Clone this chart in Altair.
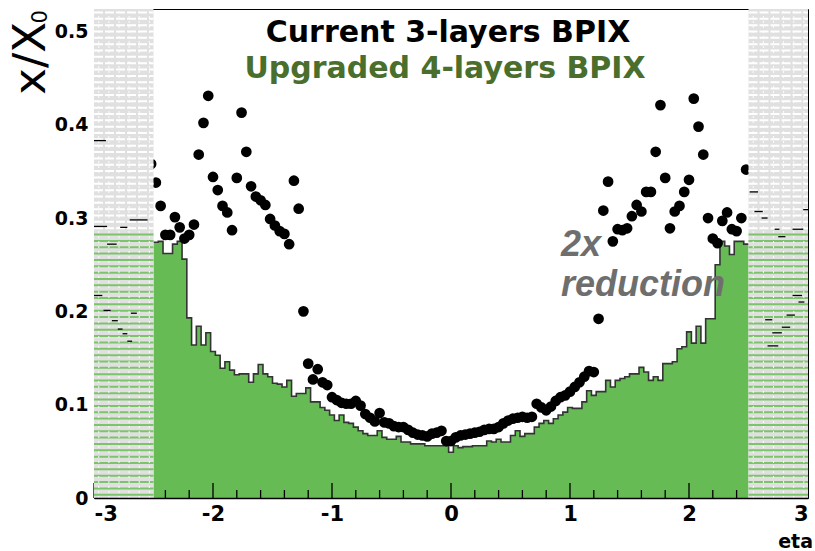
import altair as alt
import numpy as np
import pandas as pd

# Material budget x/X0 vs eta, 0.04-wide bins over the barrel acceptance
ETA_MIN = -2.5
BIN_WIDTH = 0.04

# Upgraded 4-layer BPIX (filled histogram), one value per bin
upgraded_x0 = [
    0.274, 0.275, 0.262, 0.262, 0.272, 0.275, 0.256, 0.193, 0.164, 0.184,
    0.164, 0.177, 0.157, 0.153, 0.139, 0.146, 0.137, 0.132, 0.133, 0.133,
    0.124, 0.133, 0.143, 0.133, 0.130, 0.123, 0.122, 0.119, 0.126, 0.109,
    0.112, 0.112, 0.118, 0.103, 0.103, 0.097, 0.094, 0.089, 0.083, 0.089,
    0.081, 0.080, 0.076, 0.072, 0.069, 0.067, 0.067, 0.072, 0.065, 0.063,
    0.063, 0.066, 0.060, 0.060, 0.058, 0.058, 0.058, 0.056, 0.056, 0.056,
    0.056, 0.056, 0.049,
    0.056, 0.054, 0.055, 0.055, 0.056, 0.056, 0.056, 0.061, 0.060, 0.063,
    0.060, 0.060, 0.067, 0.072, 0.066, 0.069, 0.069, 0.076, 0.080, 0.083,
    0.080, 0.085, 0.089, 0.092, 0.097, 0.096, 0.096, 0.103, 0.115, 0.110,
    0.114, 0.114, 0.126, 0.119, 0.126, 0.128, 0.130, 0.133, 0.133, 0.140,
    0.135, 0.126, 0.130, 0.126, 0.144, 0.144, 0.146, 0.160, 0.162, 0.178,
    0.166, 0.184, 0.166, 0.192, 0.192, 0.250, 0.275, 0.270, 0.261, 0.275,
    0.275, 0.272,
]

# Current 3-layer BPIX (markers at bin centres)
current_x0 = [
    0.338, 0.313, 0.282, 0.282, 0.301, 0.290, 0.278, 0.282, 0.293, 0.368,
    0.402, 0.431, 0.344, 0.330, 0.313, 0.306, 0.287, 0.343, 0.413, 0.371,
    0.334, 0.323, 0.319, 0.314, 0.299, 0.292, 0.286, 0.283, 0.272, 0.340,
    0.310, 0.200, 0.144, 0.127, 0.138, 0.124, 0.121, 0.108, 0.105, 0.102,
    0.101, 0.101, 0.104, 0.099, 0.090, 0.086, 0.082, 0.091, 0.081, 0.080,
    0.077, 0.076, 0.076, 0.073, 0.070, 0.068, 0.067, 0.066, 0.069, 0.070,
    0.072, 0.061, 0.061, 0.065, 0.067, 0.068, 0.069, 0.070, 0.071, 0.073,
    0.074, 0.074, 0.076, 0.080, 0.083, 0.085, 0.086, 0.087, 0.086, 0.087,
    0.101, 0.097, 0.094, 0.098, 0.104, 0.108, 0.110, 0.114, 0.119, 0.124,
    0.130, 0.136, 0.135, 0.192, 0.308, 0.339, 0.275, 0.288, 0.287, 0.289,
    0.302, 0.314, 0.307, 0.328, 0.328, 0.371, 0.421, 0.343, 0.289, 0.307,
    0.313, 0.328, 0.341, 0.428, 0.398, 0.368, 0.300, 0.278, 0.273, 0.297,
    0.306, 0.288, 0.286, 0.300, 0.352,
]

# 3-layer marker just outside the barrel acceptance
edge_eta = [-2.52]
edge_x0 = [0.358]

# Forward-region (|eta| > 2.5) outline fragments: start, end, value
fwd_lo = [-3.00, -2.89, -2.78, -2.70, -3.00, -3.00, -2.92, -2.85, -2.80, -2.76, -2.72, -2.69,
          2.51, 2.55, 2.61, 2.72, 2.75, 2.87, 2.96, 2.64, 2.66, 2.70, 2.78, 2.82, 2.87, 2.92]
fwd_hi = [-2.89, -2.81, -2.72, -2.55, -2.90, -2.93, -2.86, -2.80, -2.76, -2.72, -2.68, -2.64,
          2.58, 2.62, 2.66, 2.76, 2.81, 2.96, 3.00, 2.70, 2.75, 2.78, 2.85, 2.89, 2.95, 2.97]
fwd_val = [0.291, 0.272, 0.290, 0.298, 0.383, 0.217, 0.201, 0.190, 0.181, 0.176, 0.168, 0.198,
           0.328, 0.307, 0.300, 0.288, 0.280, 0.288, 0.309, 0.191, 0.163, 0.177, 0.183, 0.196, 0.217, 0.210]

x_tick_values = [-3, -2, -1, 0, 1, 2, 3]
y_tick_values = [0, 0.1, 0.2, 0.3, 0.4, 0.5]

W, H = 714, 489
Y_TOP = 0.524
GREEN = "#66bb55"
FONT = "DejaVu Sans"

n_bins = len(upgraded_x0)
edges = ETA_MIN + BIN_WIDTH * np.arange(n_bins + 1)
centres = ETA_MIN + BIN_WIDTH * (np.arange(n_bins) + 0.5)

hist_df = pd.DataFrame({"eta": edges, "v": upgraded_x0 + [upgraded_x0[-1]]})
dots_df = pd.DataFrame({"eta": centres, "v": current_x0})
edge_df = pd.DataFrame({"eta": edge_eta, "v": edge_x0})
fwd_df = pd.DataFrame({"eta": fwd_lo, "eta2": fwd_hi, "v": fwd_val})

xs = alt.Scale(domain=[-3, 3], nice=False, zero=False)
ys = alt.Scale(domain=[0, Y_TOP], nice=False, zero=False)

x_axis = alt.Axis(values=x_tick_values, labelExpr="'' + datum.value", title=None,
                  grid=False, ticks=False, tickSize=0, domain=True, domainColor="black",
                  domainWidth=1.5, labelFont=FONT, labelFontWeight="bold", labelFontSize=21,
                  labelColor="black", labelPadding=5, zindex=1)
y_axis = alt.Axis(values=y_tick_values,
                  labelExpr="datum.value == 0 ? '0' : format(datum.value, '.1f')",
                  title=None, grid=False, ticks=False, tickSize=0, domain=False,
                  labelFont=FONT, labelFontWeight="bold", labelFontSize=19,
                  labelColor="black", labelPadding=6)


def X(field="eta"):
    return alt.X(f"{field}:Q", scale=xs, axis=x_axis)


def Y(field="v"):
    return alt.Y(f"{field}:Q", scale=ys, axis=y_axis)


area = alt.Chart(hist_df).mark_area(interpolate="step-after", color=GREEN).encode(x=X(), y=Y())
outline = alt.Chart(hist_df).mark_line(interpolate="step-after", color="#333333",
                                       strokeWidth=1.6).encode(x=X(), y=Y())
dots = alt.Chart(dots_df).mark_circle(size=115, color="black", opacity=1).encode(x=X(), y=Y())
edge_dots = alt.Chart(edge_df).mark_circle(size=115, color="black", opacity=1).encode(x=X(), y=Y())

# inward ticks along the eta axis
major_df = pd.DataFrame({"eta": x_tick_values})
minor_df = pd.DataFrame({"eta": [t for t in np.round(np.arange(-3, 3.001, 0.2), 2)
                                 if abs(t - round(t)) > 1e-6]})
major_ticks = alt.Chart(major_df).mark_rule(color="black", strokeWidth=1.3).encode(
    x=X(), y=alt.value(H), y2=alt.value(H - 15))
minor_ticks = alt.Chart(minor_df).mark_rule(color="black", strokeWidth=1.3).encode(
    x=X(), y=alt.value(H), y2=alt.value(H - 8))

# hatched forward regions beyond |eta| = 2.5
band_df = pd.DataFrame({"eta": [-3.0, 2.5], "eta2": [-2.5, 3.0], "v": [0, 0], "v2": [Y_TOP, Y_TOP]})
bands = alt.Chart(band_df).mark_rect(color="#e0e0e0").encode(
    x=X(), x2="eta2:Q", y=Y(), y2="v2:Q")

levels = np.arange(0.0035, Y_TOP, 0.0068)
hatch_rows = []
for lo, hi in [(-3.0, -2.5), (2.5, 3.0)]:
    for lv in levels:
        hatch_rows.append({"eta": lo, "eta2": hi, "v": lv, "green": lv < 0.288})
hatch_df = pd.DataFrame(hatch_rows)
hatch_green = alt.Chart(hatch_df[hatch_df.green]).mark_rule(color="#7cc46a", strokeWidth=2).encode(
    x=X(), x2="eta2:Q", y=Y())
hatch_white = alt.Chart(hatch_df[~hatch_df.green]).mark_rule(
    color="white", strokeWidth=2, strokeDash=[9, 2]).encode(x=X(), x2="eta2:Q", y=Y())
vcols = np.concatenate([np.arange(-2.96, -2.5, 0.085), np.arange(2.54, 3.0, 0.085)])
vcol_df = pd.DataFrame({"eta": vcols, "v": 0.0, "v2": Y_TOP})
hatch_vert = alt.Chart(vcol_df).mark_rule(color="white", strokeWidth=1, strokeDash=[2, 3],
                                          opacity=0.9).encode(x=X(), y=Y(), y2="v2:Q")

fwd = alt.Chart(fwd_df).mark_rule(color="black", strokeWidth=1.3).encode(
    x=X(), x2="eta2:Q", y=Y())


def label(text, x, y, size, color="black", weight="bold", style="normal",
          align="left", font=FONT, angle=0, baseline="alphabetic"):
    return alt.Chart(pd.DataFrame({"t": [text]})).mark_text(
        font=font, fontSize=size, fontWeight=weight, fontStyle=style, color=color,
        align=align, baseline=baseline, angle=angle).encode(
        x=alt.value(x), y=alt.value(y), text="t:N")


title_1 = label("Current 3-layers BPIX", 354, 33, 30, align="center")
title_2 = label("Upgraded 4-layers BPIX", 351, 69, 30, color="#4a6e2c", align="center")
note_1 = label("2x", 467, 247, 36, color="#6e6e6e", style="italic", font="Liberation Sans")
note_2 = label("reduction", 467, 287, 36, color="#6e6e6e", style="italic", font="Liberation Sans")
y_title = label("x/X", -63, 13, 45, weight="normal", align="right", angle=270, baseline="middle")
y_sub = label("0", -53, 1, 21, weight="normal", align="right", angle=270, baseline="middle")
x_title = label("eta", 719, 539, 19, align="right")

chart = alt.layer(
    area, outline, dots, edge_dots, major_ticks, minor_ticks,
    bands, hatch_green, hatch_white, hatch_vert, fwd,
    title_1, title_2, note_1, note_2, y_title, y_sub, x_title,
).properties(
    width=W, height=H,
    padding={"left": 94, "top": 9, "right": 7, "bottom": 53},
    autosize=alt.AutoSizeParams(type="none"),
    background="white",
).configure_view(stroke="black", strokeWidth=1)

chart.save("out.html", embed_options={"renderer": "svg", "actions": False})
